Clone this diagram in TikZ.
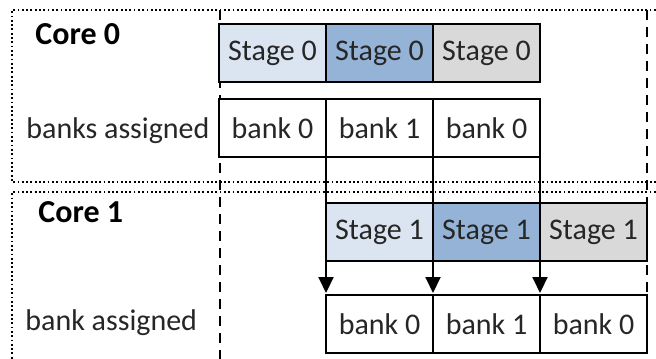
\documentclass[tikz,border=0pt]{standalone}
\usepackage{fontspec}
\setmainfont{Carlito}
\usetikzlibrary{arrows.meta}
\definecolor{stagelight}{HTML}{DBE5F1}
\definecolor{stagemid}{HTML}{95B3D7}
\definecolor{stagegray}{HTML}{D9D9D9}
\definecolor{ink}{HTML}{262626}
\begin{document}
\begin{tikzpicture}[x=0.5pt,y=-0.5pt,
  cell/.style={draw=black, line width=1pt, minimum width=53.5pt, minimum height=29pt,
    inner sep=0pt, outer sep=0pt, anchor=north west, text=ink,
    font=\fontsize{15}{18}\selectfont},
  corelabel/.style={anchor=base west, inner sep=0pt, text=black,
    font=\fontsize{16}{19}\selectfont\bfseries},
  rowlabel/.style={anchor=base west, inner sep=0pt, text=ink,
    font=\fontsize{15}{18}\selectfont},
  frame/.style={line width=0.9pt, dash pattern=on 0.9pt off 1.25pt},
  marker/.style={line width=1pt, dash pattern=on 5pt off 3.5pt},
  flow/.style={line width=1pt, -{Triangle[width=7.5pt,length=8pt]}}]
\useasboundingbox (0,0) rectangle (656,358);

% dotted frames of the two cores
\draw[frame] (660,10) -| (12,182) -- (660,182);
\draw[frame] (660,192) -| (12,365);

% dashed time markers
\coordinate (m0t) at (220,10);
\coordinate (m0b) at (220,360);
\coordinate (m1t) at (647,10);
\coordinate (m1b) at (647,296);
\draw[marker] (m0t) -- (m0b);
\draw[marker] (m1t) -- (m1b);

% labels
\node[corelabel] (core0) at (35,45) {Core 0};
\node[rowlabel] (banks0) at (26,138) {banks assigned};
\node[corelabel] (core1) at (38,222) {Core 1};
\node[rowlabel] (banks1) at (25,330) {bank assigned};

% core 0 pipeline
\node[cell, fill=stagelight] (s0a) at (219,24) {Stage 0};
\node[cell, fill=stagemid]   (s0b) at (326,24) {Stage 0};
\node[cell, fill=stagegray]  (s0c) at (433,24) {Stage 0};
\node[cell, fill=white] (b0a) at (219,99) {bank 0};
\node[cell, fill=white] (b0b) at (326,99) {bank 1};
\node[cell, fill=white] (b0c) at (433,99) {bank 0};

% core 1 pipeline
\node[cell, fill=stagelight] (s1a) at (326,203) {Stage 1};
\node[cell, fill=stagemid]   (s1b) at (433,203) {Stage 1};
\node[cell, fill=stagegray]  (s1c) at (540,203) {Stage 1};
\node[cell, fill=white] (b1a) at (326,295) {bank 0};
\node[cell, fill=white] (b1b) at (433,295) {bank 1};
\node[cell, fill=white] (b1c) at (540,295) {bank 0};

% bank hand-over from core 0 to core 1
\draw[flow] (b0a.south east) -- ([yshift=1pt]b1a.north west);
\draw[flow] (b0b.south east) -- ([yshift=1pt]b1b.north west);
\draw[flow] (b0c.south east) -- ([yshift=1pt]b1c.north west);
\end{tikzpicture}
\end{document}
